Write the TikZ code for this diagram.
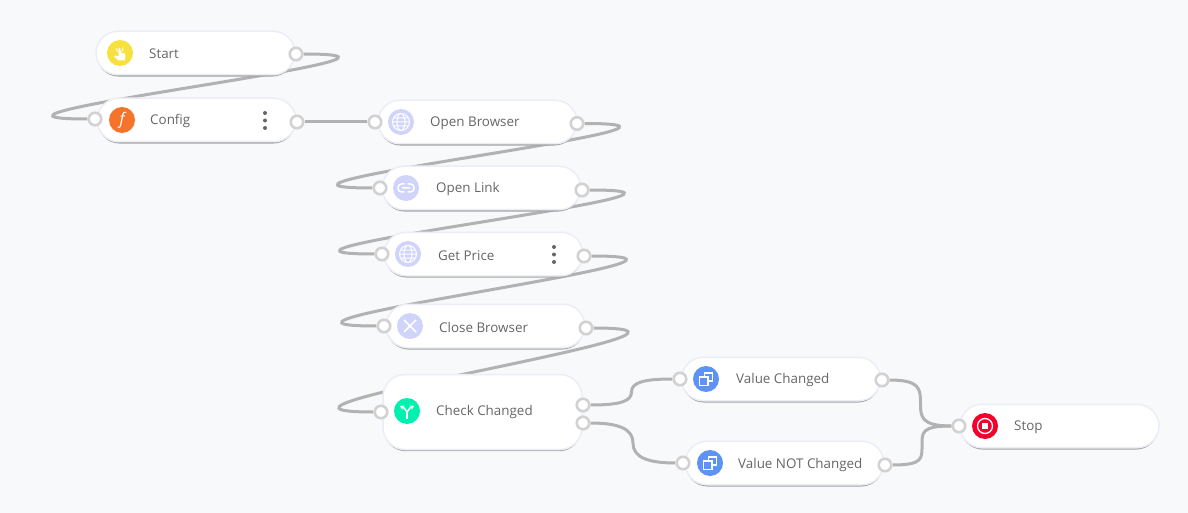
\documentclass[tikz,border=0pt]{standalone}
\usepackage{fontspec}
\setmainfont{Open Sans}
\usetikzlibrary{shadows,backgrounds,arrows.meta,calc}
\definecolor{pagebg}{HTML}{F8F9FB}
\definecolor{wiregray}{HTML}{B2B2B2}
\definecolor{portgray}{HTML}{D2D2D2}
\definecolor{rimblue}{HTML}{ECEDF6}
\definecolor{labelgray}{HTML}{666666}
\definecolor{startyellow}{HTML}{F7E13E}
\definecolor{configorange}{HTML}{F5732A}
\definecolor{actionblue}{HTML}{D0D4FB}
\definecolor{checkgreen}{HTML}{00F0B0}
\definecolor{valueblue}{HTML}{5E93F5}
\definecolor{stopred}{HTML}{F5002D}
\tikzset{
  flownode/.style={rectangle,rounded corners=22,draw=rimblue,line width=1.5,fill=white,
    minimum width=199,minimum height=43.5,inner sep=0,
    drop shadow={shadow xshift=0pt,shadow yshift=-2pt,shadow scale=0.992,fill=black!36,opacity=1}},
  flowport/.style={circle,draw=portgray,line width=2.6,fill=white,minimum size=12.5,inner sep=0},
  flowicon/.style={circle,fill=#1,minimum size=26,inner sep=0},
  flowlabel/.style={anchor=west,inner sep=0,text=labelgray,font=\fontsize{13.4}{16}\selectfont},
  flowwire/.style={draw=wiregray,line width=3},
  flowdot/.style={circle,fill=labelgray,minimum size=4,inner sep=0},
  iconglobe/.pic={
    \draw[white,line width=1] (0,0) circle (8.5) (0,0) ellipse (4 and 8.5) (-8.5,0) -- (8.5,0)
      (-7.5,-4) -- (7.5,-4) (-7.5,4) -- (7.5,4);},
  iconlink/.pic={
    \draw[white,line width=1.5,rounded corners=3.5] (-1.5,-4) -- (-8,-4) -- (-8,4) -- (-1.5,4)
      (1.5,-4) -- (8,-4) -- (8,4) -- (1.5,4) (-4,0) -- (4,0);},
  iconclose/.pic={
    \draw[white,line width=1.5] (-6,-6) -- (6,6) (-6,6) -- (6,-6);},
  iconcopy/.pic={
    \draw[white,line width=1.5] (-1.5,-2) -- (-1.5,-6) -- (6.5,-6) -- (6.5,2) -- (2,2);
    \draw[white,line width=1.5] (-6.5,-2) rectangle (2,6.5);},
  iconstop/.pic={
    \draw[white,line width=1.3] (0,0) circle (7.5);
    \fill[white] (-3,-3) rectangle (3,3);},
  iconbranch/.pic={
    \draw[white,line width=1.5] (0,8) -- (0,1);
    \draw[white,line width=1.5,-{Stealth[length=4pt,width=5pt]}] (0,1) -- (-3,-3) -- (-7,-5);
    \draw[white,line width=1.5,-{Stealth[length=4pt,width=5pt]}] (0,1) -- (3,-3) -- (7,-5);},
  iconhand/.pic={
    \draw[white,line width=0.9] (-3.8,-4.5) arc (180:-20:3.5);
    \fill[white,rounded corners=0.6] (-1.4,-5) -- (0.4,-5) -- (0.4,-0.5) -- (5.5,0.8) -- (5,7.5) -- (-1.5,7.5) -- (-6,3.4) -- (-5,2.4) -- (-1.4,3.4) -- cycle;}
}
\begin{document}
\begin{tikzpicture}[x=1pt,y=-1pt]
\useasboundingbox (0,0) rectangle (1188,513);
% nodes
\node[flownode] (start) at (195.5,53) {};
\node[flownode] (config) at (196.5,120) {};
\node[flownode] (openbrowser) at (477.5,122) {};
\node[flownode] (openlink) at (481.5,188) {};
\node[flownode] (getprice) at (483.5,254) {};
\node[flownode] (closebrowser) at (485.5,326) {};
\node[flownode,minimum height=75] (checkchanged) at (482.5,412) {};
\node[flownode] (valuechanged) at (781,379) {};
\node[flownode] (valuenot) at (784.5,463) {};
\node[flownode] (stop) at (1059.5,426) {};
% icons
\node[flowicon=startyellow] (starticon) at (120,53) {};
\node[flowicon=configorange,text=white,font=\fontsize{16}{16}\selectfont\itshape] (configicon) at (122,120) {f};
\node[flowicon=actionblue] (browsericon) at (401,122) {};
\node[flowicon=actionblue] (linkicon) at (406,188) {};
\node[flowicon=actionblue] (priceicon) at (408,254) {};
\node[flowicon=actionblue] (closeicon) at (410,326) {};
\node[flowicon=checkgreen] (checkicon) at (407,411) {};
\node[flowicon=valueblue] (changedicon) at (706,379) {};
\node[flowicon=valueblue] (noticon) at (710,463) {};
\node[flowicon=stopred] (stopicon) at (985,426) {};
\pic at (starticon) {iconhand};
\pic at (browsericon) {iconglobe};
\pic at (linkicon) {iconlink};
\pic at (priceicon) {iconglobe};
\pic at (closeicon) {iconclose};
\pic at (checkicon) {iconbranch};
\pic at (changedicon) {iconcopy};
\pic at (noticon) {iconcopy};
\pic at (stopicon) {iconstop};
% labels
\node[flowlabel] (startlabel) at (149,54) {Start};
\node[flowlabel] (configlabel) at (150,121) {Config};
\node[flowlabel] (browserlabel) at (430,123.5) {Open Browser};
\node[flowlabel] (linklabel) at (436,189) {Open Link};
\node[flowlabel] (pricelabel) at (438,255.5) {Get Price};
\node[flowlabel] (closelabel) at (439,327.5) {Close Browser};
\node[flowlabel] (checklabel) at (436,412.5) {Check Changed};
\node[flowlabel] (changedlabel) at (736,380) {Value Changed};
\node[flowlabel] (notlabel) at (738,465) {Value NOT Changed};
\node[flowlabel] (stoplabel) at (1014,427) {Stop};
% menu dots
\foreach \d in {-7.5,0,7.5} {
  \node[flowdot] at (265,120.5+\d) {};
  \node[flowdot] at (554,254.5+\d) {};
}
% ports
\node[flowport] (startout) at (296,54) {};
\node[flowport] (configin) at (95,119) {};
\node[flowport] (configout) at (297,122) {};
\node[flowport] (browserin) at (375,122) {};
\node[flowport] (browserout) at (577,123.5) {};
\node[flowport] (linkin) at (380,188) {};
\node[flowport] (linkout) at (582,190) {};
\node[flowport] (pricein) at (382,254) {};
\node[flowport] (priceout) at (584,256) {};
\node[flowport] (closein) at (384,326) {};
\node[flowport] (closeout) at (586,328) {};
\node[flowport] (checkin) at (381,412) {};
\node[flowport] (checkout) at (583,405) {};
\node[flowport] (checkalt) at (583,423) {};
\node[flowport] (changedin) at (680,379) {};
\node[flowport] (changedout) at (882,380) {};
\node[flowport] (notin) at (683,463) {};
\node[flowport] (notout) at (885,465) {};
\node[flowport] (stopin) at (959,426) {};
% connectors go under the nodes
\begin{pgfonlayer}{background}
\fill[pagebg] (0,0) rectangle (1188,513);
\foreach \a/\b in {startout/configin,browserout/linkin,linkout/pricein,priceout/closein,closeout/checkin}
  \draw[flowwire] (\a) .. controls +(186,0) and +(-186,0) .. (\b);
\draw[flowwire] (configout) -- (browserin);
\foreach \a/\b/\k in {checkout/changedin/-9,checkalt/notin/13,changedout/stopin/14,notout/stopin/-13}
  \draw[flowwire] (\a) .. controls +(38,0) and +(0,-\k) .. ($(\a)!.5!(\b)$)
    .. controls +(0,\k) and +(-38,0) .. (\b);
\end{pgfonlayer}
\end{tikzpicture}
\end{document}
